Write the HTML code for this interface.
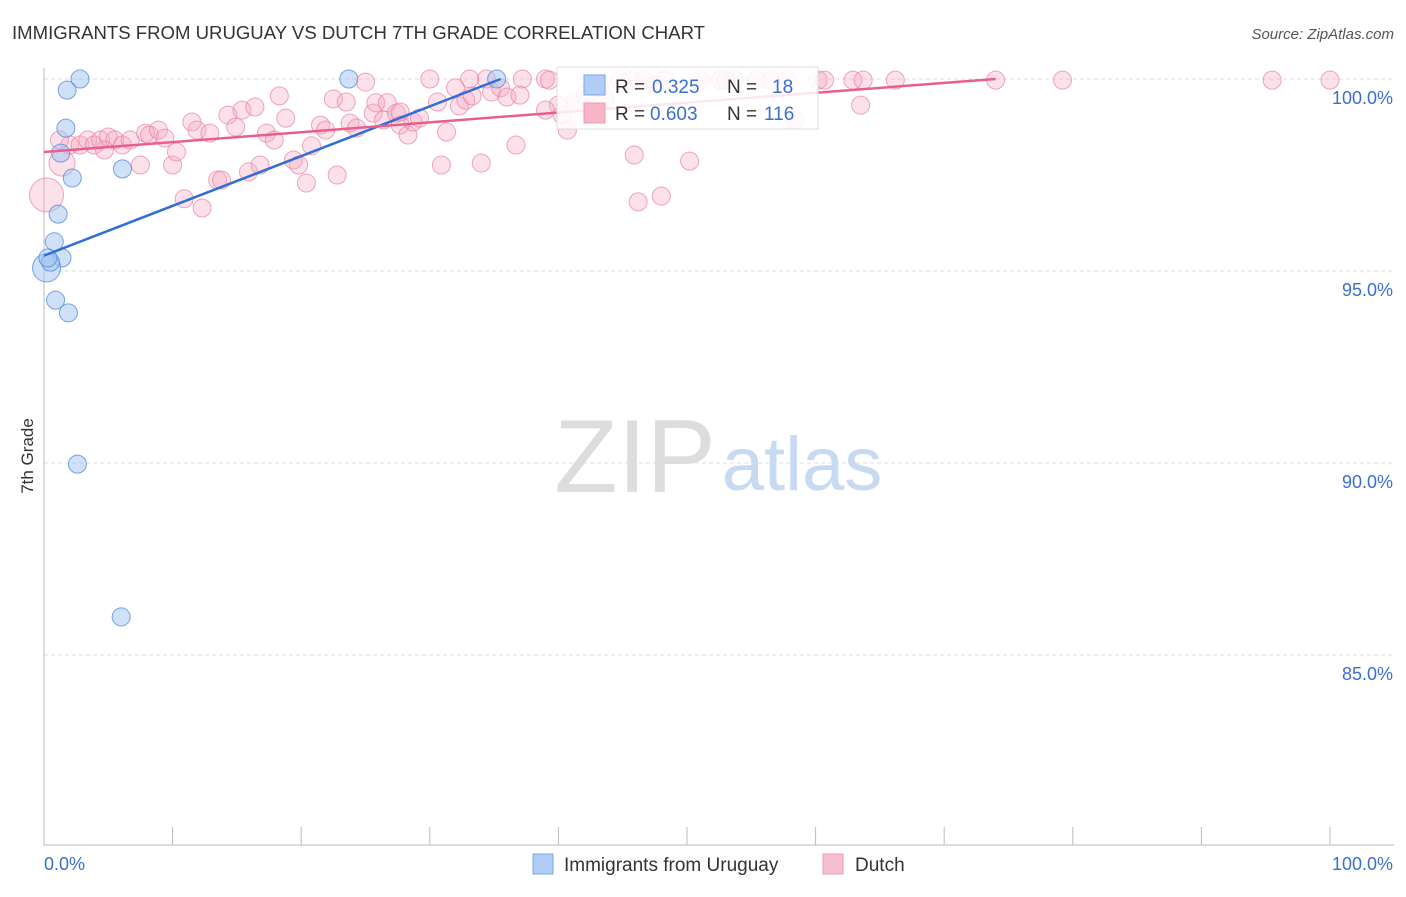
<!DOCTYPE html>
<html><head><meta charset="utf-8"><style>
body{margin:0;background:#fff;font-family:"Liberation Sans",sans-serif;}
svg text{font-family:"Liberation Sans",sans-serif;}
</style></head><body>
<svg id="chart" width="1406" height="892" xmlns="http://www.w3.org/2000/svg">
<text x="12" y="39" font-size="18" fill="#333" textLength="693" lengthAdjust="spacingAndGlyphs">IMMIGRANTS FROM URUGUAY VS DUTCH 7TH GRADE CORRELATION CHART</text>
<text x="1394" y="39" font-size="15" fill="#555" text-anchor="end" font-style="italic">Source: ZipAtlas.com</text>
<g>
<text x="635" y="492" font-size="104" fill="#ddd" text-anchor="middle" font-family="Liberation Serif">ZIP</text>
<text x="802" y="490" font-size="76" fill="#c8daf2" text-anchor="middle">atlas</text>
</g>
<text transform="translate(33,456) rotate(-90)" font-size="17" fill="#333" text-anchor="middle">7th Grade</text>
<g id="grid"></g>
<g id="axes"></g>
<g id="pink"></g>
<g id="blue"></g>
<g id="lines"></g>
<g>
<rect x="557" y="67" width="261" height="62" fill="#fff" fill-opacity="0.85" stroke="#ddd"/>
<rect x="584" y="75" width="21" height="20" fill="#b0cdf5" stroke="#7aa6e6"/>
<text x="615" y="93" font-size="19" fill="#333">R = </text><text x="652" y="93" font-size="19" fill="#3a6fd0">0.325</text>
<text x="727" y="93" font-size="19" fill="#333">N = </text><text x="772" y="93" font-size="19" fill="#3a6fd0">18</text>
<rect x="584" y="103" width="21" height="20" fill="#f7b6c8" stroke="#ee9ab2"/>
<text x="615" y="120" font-size="19" fill="#333">R = </text><text x="650" y="120" font-size="19" fill="#3a6fd0">0.603</text>
<text x="727" y="120" font-size="19" fill="#333">N = </text><text x="764" y="120" font-size="19" fill="#3a6fd0">116</text>
</g>
<g>
<rect x="533" y="854" width="20" height="20" fill="#b0cdf5" stroke="#7aa6e6"/>
<text x="564" y="871" font-size="19" fill="#333">Immigrants from Uruguay</text>
<rect x="823" y="854" width="20" height="20" fill="#f7c0d0" stroke="#ee9ab2"/>
<text x="855" y="871" font-size="19" fill="#333">Dutch</text>
</g>
</svg>
<script>
const yTicks=[100,95,90,85];
const yTickLabels=["100.0%","95.0%","90.0%","85.0%"];
const xTicks=[0,10,20,30,40,50,60,70,80,90,100];
const blueX=[2.8,1.8,23.7,35.2,1.7,2.2,1.3,6.1,1.1,0.8,1.4,0.2,0.5,0.9,1.9,2.6,6.0,0.3];
const blueY=[100,99.71,100,100,98.72,97.42,98.07,97.66,96.48,95.76,95.34,95.08,95.23,94.24,93.91,89.97,85.99,95.34];
const blueR=[9,9,9,9,9,9,9,9,9,9,9,14,9,9,9,9,9,9];
const pinkX=[0.2,1.4,2.0,2.8,3.4,3.9,4.4,5.0,5.5,6.1,6.7,7.5,7.9,8.2,8.9,9.4,10.0,10.3,10.9,11.5,11.9,12.3,12.9,13.5,13.8,14.3,14.9,15.4,15.9,16.4,16.8,17.3,17.9,18.3,18.8,19.4,19.8,20.4,20.8,21.5,21.9,22.5,22.8,23.5,23.8,24.3,25.0,25.6,25.8,26.4,26.7,27.4,27.7,28.3,28.7,29.2,30.0,30.6,30.9,31.3,32.0,32.3,32.8,33.3,34.0,34.4,34.8,35.5,36.0,36.7,37.2,39.0,39.3,40.0,40.3,40.7,41.3,42.1,42.5,43.2,44.8,45.6,45.9,46.2,46.7,47.5,48.0,48.3,50.2,51.0,52.6,53.0,53.7,55.4,56.5,57.8,58.4,60.2,60.7,62.9,63.5,63.7,66.2,74.0,79.2,95.5,100,33.1,39.0,43.6,37.0,27.7,4.7,1.2];
const pinkY=[96.98,97.81,98.28,98.28,98.41,98.28,98.41,98.49,98.41,98.28,98.41,97.76,98.59,98.54,98.67,98.46,97.76,98.10,96.88,98.88,98.67,96.64,98.59,97.37,97.37,99.06,98.75,99.19,97.58,99.27,97.76,98.59,98.41,99.56,98.98,97.89,97.76,97.29,98.26,98.80,98.67,99.48,97.50,99.40,98.85,98.72,99.92,99.11,99.38,98.93,99.38,99.11,98.80,98.54,98.88,98.98,100,99.40,97.76,98.62,99.77,99.30,99.45,99.56,97.81,100,99.66,99.77,99.53,98.28,100,100,99.97,99.32,99.06,98.67,99.45,99.58,99.19,99.77,99.97,99.97,98.02,96.80,99.97,99.84,96.95,99.97,97.86,99.97,99.97,99.97,99.97,99.97,99.97,99.97,98.93,99.97,99.97,99.97,99.32,99.97,99.97,99.97,99.97,99.97,99.97,100,99.19,99.45,99.58,99.14,98.15,98.41];
const blueTrend=[[0,95.4],[35.5,100]];
const pinkTrend=[[0,98.1],[74,100]];
const X0=44,X1=1330,YTOP=79,YBOT=845;
const xs=v=>X0+(v/100)*(X1-X0);
const ys=v=>YTOP+(100-v)/(100-80.05)*(YBOT-YTOP);
const NS="http://www.w3.org/2000/svg";
function mk(t,a,p){const e=document.createElementNS(NS,t);for(const k in a)e.setAttribute(k,a[k]);p.appendChild(e);return e;}
const grid=document.getElementById('grid'),axes=document.getElementById('axes');
yTicks.forEach((v,i)=>{
 const l=mk('line',{x1:X0,x2:1394,y1:ys(v),y2:ys(v),stroke:'#ddd','stroke-dasharray':'4,3'},grid);
 
 
 const t=mk('text',{x:1393,y:ys(v)+25,'font-size':18,fill:'#3a6fd0','text-anchor':'end'},grid);
 t.textContent=yTickLabels[i];
 
 
});
const ya=mk('line',{x1:X0,x2:X0,y1:68,y2:YBOT,stroke:'#bbb'},axes);


const xa=mk('line',{x1:X0,x2:1394,y1:YBOT,y2:YBOT,stroke:'#bbb'},axes);


xTicks.forEach(v=>{
 const t=mk('line',{x1:xs(v),x2:xs(v),y1:YBOT,y2:YBOT-18,stroke:'#bbb'},axes);
 
 
});
const xl0=mk('text',{x:44,y:870,'font-size':18,fill:'#3a6fd0'},axes);xl0.textContent='0.0%';


const xl1=mk('text',{x:1393,y:870,'font-size':18,fill:'#3a6fd0','text-anchor':'end'},axes);xl1.textContent='100.0%';


const pg=document.getElementById('pink');
pinkX.forEach((x,i)=>{
 const r=i===0?17:(i===1?13:9);
 const c=mk('circle',{cx:xs(x),cy:ys(pinkY[i]),r:r,fill:'rgba(247,170,195,0.35)',stroke:'rgba(232,130,160,0.7)','stroke-width':1},pg);
 
 
});
const bg=document.getElementById('blue');
blueX.forEach((x,i)=>{
 const c=mk('circle',{cx:xs(x),cy:ys(blueY[i]),r:blueR[i],fill:'rgba(160,195,240,0.5)',stroke:'rgba(90,140,220,0.8)','stroke-width':1},bg);
 
 
});
const lg=document.getElementById('lines');
const bl=mk('line',{x1:xs(blueTrend[0][0]),y1:ys(blueTrend[0][1]),x2:xs(blueTrend[1][0]),y2:ys(blueTrend[1][1]),stroke:'#2f6fd6','stroke-width':2.5},lg);


const pl=mk('line',{x1:xs(pinkTrend[0][0]),y1:ys(pinkTrend[0][1]),x2:xs(pinkTrend[1][0]),y2:ys(pinkTrend[1][1]),stroke:'#e8608a','stroke-width':2.5},lg);


</script>
</body></html>
